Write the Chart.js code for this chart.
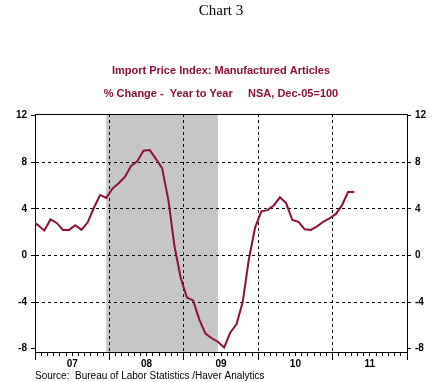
<!DOCTYPE html>
<html>
<head>
<meta charset="utf-8">
<title>Chart 3</title>
<script src="https://cdn.jsdelivr.net/npm/chart.js@4"></script>
<style>
  body { margin: 0; background: #fff; }
</style>
</head>
<body>
<canvas id="chart3" width="435" height="382"></canvas>
<script>
// Import Price Index: Manufactured Articles, % change y/y, monthly Dec-06 .. Apr-11
const firstMonth = -1; // Dec 2006, counted in months from Jan 2007
const yoyChange = [
  3.0,                                                            // Dec 06
  2.6, 2.15, 3.1, 2.8, 2.2, 2.2, 2.6, 2.2, 2.85, 4.1, 5.2, 4.95,  // 2007
  5.75, 6.2, 6.75, 7.7, 8.1, 9.0, 9.05, 8.3, 7.5, 4.8, 0.8, -1.9, // 2008
  -3.6, -3.85, -5.5, -6.7, -7.1, -7.4, -7.9, -6.6, -5.9, -4.0, -0.3, 2.4, // 2009
  3.8, 3.9, 4.3, 5.0, 4.5, 3.05, 2.9, 2.25, 2.2, 2.5, 2.9, 3.2,   // 2010
  3.55, 4.3, 5.45, 5.45                                           // 2011
];
const yearLabels = ['07', '08', '09', '10', '11'];
const yTicks = [-8, -4, 0, 4, 8, 12];
const recession = [11, 29]; // Dec 2007 .. Jun 2009, month index

const maroon = '#8c1034';
const nMonths = yearLabels.length * 12;
const points = yoyChange.map((v, i) => ({ x: firstMonth + i + 0.5, y: v }));
const monthTicks = Array.from({ length: nMonths + 1 }, (_, i) => i);
const yearStarts = monthTicks.filter(m => m % 12 === 0);

Chart.defaults.font.family = '"Liberation Sans", Arial, sans-serif';
const tickFont = { size: 10, weight: 'bold' };

// grey recession band under the grid, top frame line and source note on top
const extras = {
  id: 'extras',
  beforeDraw(chart) {
    const { ctx, chartArea: a, scales: { x } } = chart;
    const x1 = x.getPixelForValue(recession[0] + 0.5);
    const x2 = x.getPixelForValue(recession[1] + 0.5);
    ctx.save();
    ctx.fillStyle = '#c6c6c6';
    ctx.fillRect(x1, a.top, x2 - x1, a.bottom - a.top);
    ctx.restore();
  },
  afterDraw(chart) {
    const { ctx, chartArea: a } = chart;
    ctx.save();
    ctx.strokeStyle = '#000';
    ctx.lineWidth = 1;
    ctx.beginPath();
    ctx.moveTo(a.left, a.top + 0.5);
    ctx.lineTo(a.right, a.top + 0.5);
    ctx.stroke();
    ctx.fillStyle = '#000';
    ctx.font = '10px "Liberation Sans", Arial, sans-serif';
    ctx.textBaseline = 'middle';
    ctx.fillText('Source:  Bureau of Labor Statistics /Haver Analytics', a.left, 376);
    ctx.restore();
  }
};

const innerOnly = (lo, hi) => ctx =>
  ctx.tick && ctx.tick.value > lo && ctx.tick.value < hi ? '#000' : 'rgba(0,0,0,0)';

new Chart(document.getElementById('chart3'), {
  type: 'line',
  data: {
    datasets: [{
      data: points,
      borderColor: maroon,
      borderWidth: 2,
      pointRadius: 0,
      tension: 0
    }]
  },
  options: {
    responsive: false,
    animation: false,
    layout: { padding: 0 },
    plugins: {
      legend: { display: false },
      tooltip: { enabled: false },
      title: {
        display: true,
        text: 'Chart 3',
        fullSize: false,
        color: '#000',
        font: { family: '"Liberation Serif", "Times New Roman", serif', size: 15, weight: 'normal' },
        padding: { top: 2, bottom: 39 }
      },
      subtitle: {
        display: true,
        fullSize: false,
        text: ['Import Price Index: Manufactured Articles',
               '% Change -  Year to Year     NSA, Dec-05=100'],
        color: maroon,
        font: { size: 11, weight: 'bold', lineHeight: '23px' },
        padding: { top: 0, bottom: 9 }
      }
    },
    scales: {
      x: {
        type: 'linear',
        position: 'bottom',
        min: 0,
        max: nMonths,
        weight: 1,
        afterFit: s => { s.height = 30; },
        afterBuildTicks: s => { s.ticks = monthTicks.map(v => ({ value: v })); },
        grid: { drawOnChartArea: false, tickLength: 4, tickColor: '#000' },
        border: { color: '#000' },
        ticks: {
          autoSkip: false,
          maxRotation: 0,
          padding: 2,
          color: '#000',
          font: tickFont,
          callback: v => (v % 12 === 6 ? yearLabels[(v - 6) / 12] : '')
        }
      },
      years: {
        type: 'linear',
        axis: 'x',
        position: 'bottom',
        min: 0,
        max: nMonths,
        weight: 0,
        afterFit: s => { s.height = 0; },
        afterBuildTicks: s => { s.ticks = yearStarts.map(v => ({ value: v })); },
        grid: { color: innerOnly(0, nMonths), tickColor: '#000', tickLength: 8 },
        border: { display: false, dash: [3, 3] },
        ticks: { display: false }
      },
      y: {
        position: 'left',
        min: -8.28,
        max: 12.15,
        afterFit: s => { s.width = 35; },
        afterBuildTicks: s => { s.ticks = yTicks.map(v => ({ value: v })); },
        grid: { color: innerOnly(-8, 12), tickColor: '#000', tickLength: 4 },
        border: { color: '#000', dash: [3, 3] },
        ticks: { padding: 4, color: '#000', font: tickFont }
      },
      y2: {
        position: 'right',
        min: -8.28,
        max: 12.15,
        afterFit: s => { s.width = 28; },
        afterBuildTicks: s => { s.ticks = yTicks.map(v => ({ value: v })); },
        grid: { drawOnChartArea: false, tickColor: '#000', tickLength: 4 },
        border: { color: '#000' },
        ticks: { padding: 4, color: '#000', font: tickFont }
      }
    }
  },
  plugins: [extras]
});
</script>
</body>
</html>
